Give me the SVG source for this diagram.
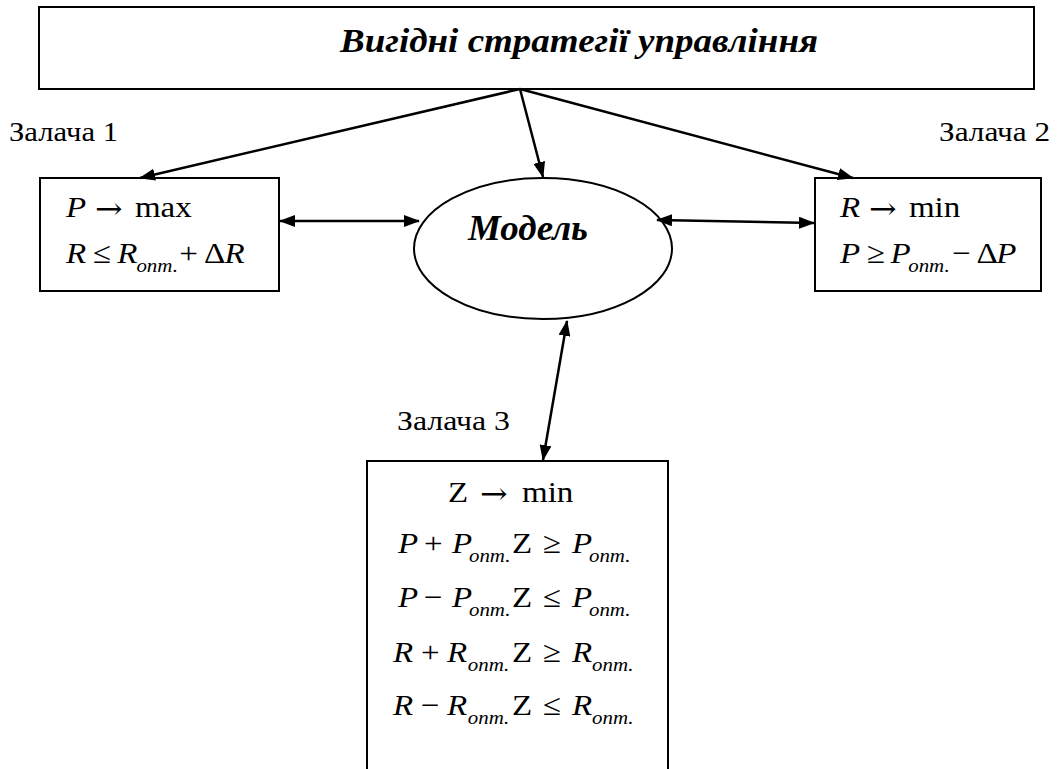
<svg xmlns="http://www.w3.org/2000/svg" width="1057" height="769" viewBox="0 0 1057 769">
<style>
.box{fill:#fff;stroke:#000;stroke-width:2}
.t{font-family:'Liberation Serif',serif;fill:#000}
.title{font-size:34px;font-weight:bold;font-style:italic}
.lbl{font-size:27px}
.eq{font-size:30px}
.i{font-style:italic}
.sub{font-size:19px;font-style:italic}
.ar{font-family:'DejaVu Serif',serif;font-size:30px}
.cn{fill:none;stroke:#000;stroke-width:2.5}
</style>
<defs>
<marker id="ah" viewBox="0 0 16 12" refX="15" refY="6" markerWidth="16" markerHeight="12" markerUnits="userSpaceOnUse" orient="auto-start-reverse">
<path d="M0,0 L16,6 L0,12 z" fill="#000"/>
</marker>
</defs>
<rect width="1057" height="769" fill="#fff"/>
<g id="title-node">
<rect class="box" x="39" y="7" width="995" height="82"/>
<text class="t title" x="340" y="52" textLength="478" lengthAdjust="spacingAndGlyphs">Вигідні стратегії управління</text>
</g>
<g id="task1">
<rect class="box" x="40" y="178" width="239" height="113"/>
<g transform="translate(66,217) scale(1.1,1)"><text class="t eq"><tspan class="i" x="0" y="0">P</tspan><tspan class="ar" x="26.4" y="2">→</tspan><tspan x="62.7" y="0">max</tspan></text></g>
<g transform="translate(66,263) scale(1.1,1)"><text class="t eq"><tspan class="i" x="0" y="0">R</tspan><tspan x="24.5">≤</tspan><tspan class="i" x="46.5">R</tspan><tspan class="sub" x="64" y="9">опт.</tspan><tspan x="103" y="0">+</tspan><tspan x="125.5">Δ</tspan><tspan class="i" x="144">R</tspan></text></g>
</g>
<g id="label1"><text class="t lbl" x="9" y="141" textLength="109" lengthAdjust="spacingAndGlyphs">Залача 1</text></g>
<g id="task2">
<rect class="box" x="815" y="178" width="226" height="113"/>
<g transform="translate(840,217) scale(1.1,1)"><text class="t eq"><tspan class="i" x="0" y="0">R</tspan><tspan class="ar" x="26.4" y="2">→</tspan><tspan x="62.7" y="0">min</tspan></text></g>
<g transform="translate(840,263) scale(1.1,1)"><text class="t eq"><tspan class="i" x="0" y="0">P</tspan><tspan x="24.5">≥</tspan><tspan class="i" x="46">P</tspan><tspan class="sub" x="62" y="9">опт.</tspan><tspan x="102" y="0">−</tspan><tspan x="124">Δ</tspan><tspan class="i" x="142">P</tspan></text></g>
</g>
<g id="label2"><text class="t lbl" x="939" y="141" textLength="111" lengthAdjust="spacingAndGlyphs">Залача 2</text></g>
<g id="model">
<ellipse class="box" cx="543" cy="248.5" rx="129" ry="70.5"/>
<text class="t" x="468" y="240" font-size="35" font-weight="bold" font-style="italic" textLength="120" lengthAdjust="spacingAndGlyphs">Модель</text>
</g>
<g id="task3">
<path class="box" d="M367,775 V461 H668 V775"/>
<g transform="translate(448,502) scale(1.1,1)"><text class="t eq"><tspan x="0" y="0">Z</tspan><tspan class="ar" x="29.1" y="2">→</tspan><tspan x="67.3" y="0">min</tspan></text></g>
<g transform="translate(398,553) scale(1.1,1)"><text class="t eq"><tspan class="i" x="0" y="0">P</tspan><tspan x="23.6">+</tspan><tspan class="i" x="49.1">P</tspan><tspan class="sub" x="64.5" y="9">опт.</tspan><tspan x="103.6" y="0">Z</tspan><tspan x="131.8">≥</tspan><tspan class="i" x="158.2">P</tspan><tspan class="sub" x="173.6" y="9">опт.</tspan></text></g>
<g transform="translate(398,607) scale(1.1,1)"><text class="t eq"><tspan class="i" x="0" y="0">P</tspan><tspan x="23.6">−</tspan><tspan class="i" x="49.1">P</tspan><tspan class="sub" x="64.5" y="9">опт.</tspan><tspan x="103.6" y="0">Z</tspan><tspan x="131.8">≤</tspan><tspan class="i" x="158.2">P</tspan><tspan class="sub" x="173.6" y="9">опт.</tspan></text></g>
<g transform="translate(393,662) scale(1.1,1)"><text class="t eq"><tspan class="i" x="0" y="0">R</tspan><tspan x="25.5">+</tspan><tspan class="i" x="49.1">R</tspan><tspan class="sub" x="68" y="9">опт.</tspan><tspan x="108.2" y="0">Z</tspan><tspan x="136.4">≥</tspan><tspan class="i" x="162.7">R</tspan><tspan class="sub" x="180.9" y="9">опт.</tspan></text></g>
<g transform="translate(393,715) scale(1.1,1)"><text class="t eq"><tspan class="i" x="0" y="0">R</tspan><tspan x="25.5">−</tspan><tspan class="i" x="49.1">R</tspan><tspan class="sub" x="68" y="9">опт.</tspan><tspan x="108.2" y="0">Z</tspan><tspan x="136.4">≤</tspan><tspan class="i" x="162.7">R</tspan><tspan class="sub" x="180.9" y="9">опт.</tspan></text></g>
</g>
<g id="label3"><text class="t lbl" x="397" y="430" textLength="113" lengthAdjust="spacingAndGlyphs">Залача 3</text></g>
<g id="connectors">
<line class="cn" x1="520" y1="89" x2="140" y2="178" marker-end="url(#ah)"/>
<line class="cn" x1="520" y1="89" x2="543" y2="177" marker-end="url(#ah)"/>
<line class="cn" x1="520" y1="89" x2="853" y2="178" marker-end="url(#ah)"/>
<line class="cn" x1="280" y1="221" x2="419" y2="221" marker-start="url(#ah)" marker-end="url(#ah)"/>
<line class="cn" x1="657" y1="220" x2="814" y2="223" marker-start="url(#ah)" marker-end="url(#ah)"/>
<line class="cn" x1="567" y1="321" x2="543" y2="460" marker-start="url(#ah)" marker-end="url(#ah)"/>
</g>
</svg>
